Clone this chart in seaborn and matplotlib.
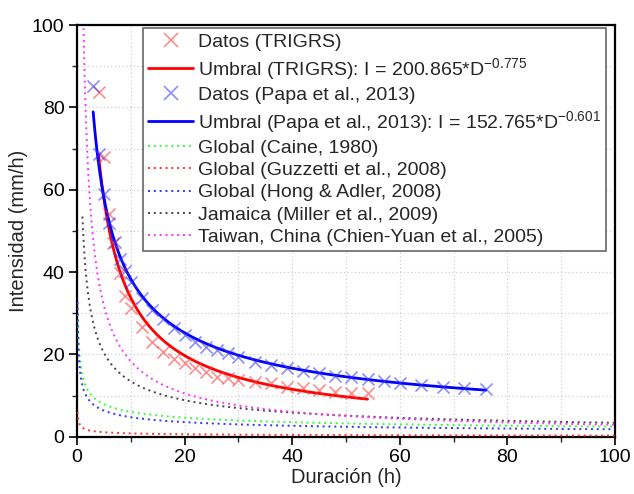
import numpy as np
import pandas as pd
import matplotlib
matplotlib.use("Agg")
import matplotlib.pyplot as plt
import seaborn as sns
from matplotlib.lines import Line2D
from matplotlib.ticker import MultipleLocator

# ---------------- data ----------------
trigrs_D = [4, 5, 6, 6.6, 8, 9, 10, 12, 14, 16, 18, 20, 22, 24, 26, 28, 30,
            33, 36, 39, 42, 45, 48, 51, 54]
trigrs_I = [83.8, 67.9, 54.2, 47.0, 39.7, 34.3, 31.2, 26.7, 23.1, 20.6, 19.0,
            17.8, 16.6, 15.8, 14.6, 14.2, 13.8, 13.4, 13.0, 12.1, 11.8, 11.3,
            10.9, 10.6, 10.5]

papa_D = [3, 4, 5, 6, 7, 8, 9, 10, 12, 14, 16, 18, 20, 22, 24, 26, 28, 30,
          33, 36, 39, 42, 45, 48, 51, 54, 57, 60, 64, 68, 72, 76]
papa_I = [85.2, 68.8, 59.0, 52.0, 47.2, 43.1, 40.3, 37.7, 33.6, 30.8, 28.5,
          26.3, 24.7, 23.1, 21.9, 21.1, 20.3, 19.4, 18.2, 17.4, 16.6, 16.0,
          15.4, 14.8, 14.4, 13.9, 13.6, 13.1, 12.6, 12.1, 11.9, 11.5]

# power-law thresholds I = a * D^b  (coefficients as printed / published)
curve_names = ["Umbral (TRIGRS)", "Umbral (Papa et al., 2013)",
               "Global (Caine, 1980)", "Global (Guzzetti et al., 2008)",
               "Global (Hong & Adler, 2008)", "Jamaica (Miller et al., 2009)",
               "Taiwan, China (Chien-Yuan et al., 2005)"]
curve_a = [200.865, 152.765, 14.82, 2.20, 12.45, 53.5, 115.47]
curve_b = [-0.775, -0.601, -0.39, -0.44, -0.42, -0.60, -0.80]
curve_dmin = [4, 3, 0.167, 0.1, 0.1, 1.0, 1.0]
curve_dmax = [54, 76, 100, 100, 100, 100, 100]
curve_colors = ["#ff0000", "#0000ff", "#33ff33", "#ff3333", "#3333ff",
                "#444444", "#ff33ff"]

labels = [
    "Datos (TRIGRS)",
    r"Umbral (TRIGRS): I = 200.865*D$^{-0.775}$",
    "Datos (Papa et al., 2013)",
    r"Umbral (Papa et al., 2013): I = 152.765*D$^{-0.601}$",
    "Global (Caine, 1980)",
    "Global (Guzzetti et al., 2008)",
    "Global (Hong & Adler, 2008)",
    "Jamaica (Miller et al., 2009)",
    "Taiwan, China (Chien-Yuan et al., 2005)",
]

# ---------------- style ----------------
sns.set_theme(style="white")
plt.rcParams["font.family"] = ["Liberation Sans", "DejaVu Sans"]
plt.rcParams["mathtext.default"] = "regular"

fig = plt.figure(figsize=(6.34, 4.94), dpi=100)
ax = fig.add_axes([0.1215, 0.116, 0.8485, 0.833])

# curves
curve_frames = []
for n, a, b, d0, d1 in zip(curve_names, curve_a, curve_b, curve_dmin, curve_dmax):
    D = np.geomspace(d0, d1, 400)
    curve_frames.append(pd.DataFrame({"D": D, "I": a * D ** b, "name": n}))
curves = pd.concat(curve_frames, ignore_index=True)

for i, n in enumerate(curve_names):
    sub = curves[curves["name"] == n]
    if i < 2:
        sns.lineplot(data=sub, x="D", y="I", ax=ax, color=curve_colors[i],
                     lw=2.0, sort=False, zorder=4)
    else:
        sns.lineplot(data=sub, x="D", y="I", ax=ax, color=curve_colors[i],
                     lw=1.4, ls=(0, (1, 2)), sort=False, zorder=3)

sns.scatterplot(x=trigrs_D, y=trigrs_I, ax=ax, marker="x", s=75,
                color="#ff3030", alpha=0.55, linewidth=1.2, zorder=5)
sns.scatterplot(x=papa_D, y=papa_I, ax=ax, marker="x", s=75,
                color="#3030ff", alpha=0.55, linewidth=1.2, zorder=5)

ax.set_xlim(0, 100)
ax.set_ylim(0, 100)
ax.xaxis.set_major_locator(MultipleLocator(20))
ax.xaxis.set_minor_locator(MultipleLocator(10))
ax.yaxis.set_major_locator(MultipleLocator(20))
ax.yaxis.set_minor_locator(MultipleLocator(10))
ax.grid(True, which="both", color="#d0d0d0", ls=(0, (1, 2)), lw=0.9)
ax.set_axisbelow(True)
ax.tick_params(which="major", direction="out", length=6, width=1.2,
               labelsize=14, bottom=True, left=True, top=False, right=False,
               colors="black", pad=3)
ax.tick_params(which="minor", direction="out", length=3.5, width=1.0,
               bottom=True, left=True, top=False, right=False)
for s in ax.spines.values():
    s.set_color("black")
    s.set_linewidth(1.6)

ax.set_xlabel("Duración (h)", fontsize=14.5, labelpad=1)
ax.set_ylabel("Intensidad (mm/h)", fontsize=14.5, labelpad=3)

handles = [
    Line2D([], [], ls="none", marker="x", color="#ff3030", alpha=0.55, ms=9.5, mew=1.2),
    Line2D([], [], color=curve_colors[0], lw=2.0),
    Line2D([], [], ls="none", marker="x", color="#3030ff", alpha=0.55, ms=9.5, mew=1.2),
    Line2D([], [], color=curve_colors[1], lw=2.0),
] + [Line2D([], [], color=c, lw=1.4, ls=(0, (1, 2))) for c in curve_colors[2:]]

leg = ax.legend(handles, labels, loc="upper left", bbox_to_anchor=(0.1227, 0.993),
                borderaxespad=0, fontsize=14, frameon=True, fancybox=False,
                edgecolor="#666666", framealpha=1, handlelength=2.3,
                handletextpad=0.25, labelspacing=0.24, borderpad=0.28)
leg.get_frame().set_linewidth(1.2)

fig.savefig("out.png", dpi=100)
